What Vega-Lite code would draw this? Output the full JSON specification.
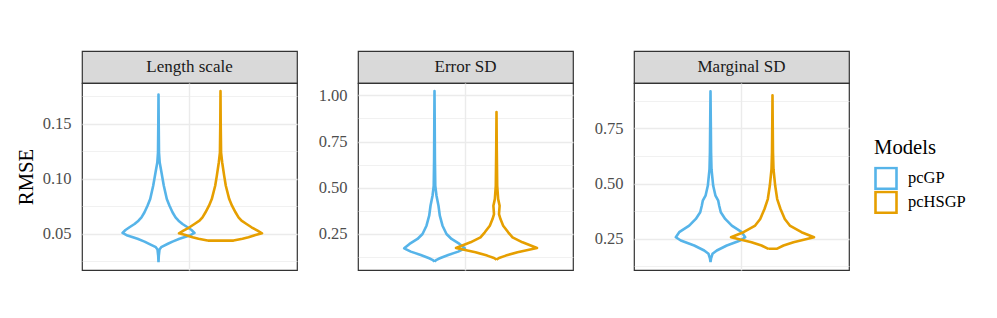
{
  "$schema": "https://vega.github.io/schema/vega-lite/v6.json",
  "background": "white",
  "padding": {"left": 14, "top": 50, "right": 5, "bottom": 5},
  "datasets": {
    "violins": [
      {"panel":"Length scale","model":"pcGP","rmse":0.0243,"vw":0,"k":0},
      {"panel":"Length scale","model":"pcGP","rmse":0.0300,"vw":-0.007,"k":1},
      {"panel":"Length scale","model":"pcGP","rmse":0.0358,"vw":-0.024,"k":2},
      {"panel":"Length scale","model":"pcGP","rmse":0.0379,"vw":-0.065,"k":3},
      {"panel":"Length scale","model":"pcGP","rmse":0.0410,"vw":-0.227,"k":4},
      {"panel":"Length scale","model":"pcGP","rmse":0.0430,"vw":-0.337,"k":5},
      {"panel":"Length scale","model":"pcGP","rmse":0.0455,"vw":-0.506,"k":6},
      {"panel":"Length scale","model":"pcGP","rmse":0.0485,"vw":-0.747,"k":7},
      {"panel":"Length scale","model":"pcGP","rmse":0.0509,"vw":-0.867,"k":8},
      {"panel":"Length scale","model":"pcGP","rmse":0.0535,"vw":-0.795,"k":9},
      {"panel":"Length scale","model":"pcGP","rmse":0.0560,"vw":-0.699,"k":10},
      {"panel":"Length scale","model":"pcGP","rmse":0.0590,"vw":-0.578,"k":11},
      {"panel":"Length scale","model":"pcGP","rmse":0.0620,"vw":-0.482,"k":12},
      {"panel":"Length scale","model":"pcGP","rmse":0.0650,"vw":-0.410,"k":13},
      {"panel":"Length scale","model":"pcGP","rmse":0.0696,"vw":-0.337,"k":14},
      {"panel":"Length scale","model":"pcGP","rmse":0.0756,"vw":-0.265,"k":15},
      {"panel":"Length scale","model":"pcGP","rmse":0.0816,"vw":-0.200,"k":16},
      {"panel":"Length scale","model":"pcGP","rmse":0.0937,"vw":-0.128,"k":17},
      {"panel":"Length scale","model":"pcGP","rmse":0.1057,"vw":-0.072,"k":18},
      {"panel":"Length scale","model":"pcGP","rmse":0.1148,"vw":-0.029,"k":19},
      {"panel":"Length scale","model":"pcGP","rmse":0.1238,"vw":-0.012,"k":20},
      {"panel":"Length scale","model":"pcGP","rmse":0.1500,"vw":-0.005,"k":21},
      {"panel":"Length scale","model":"pcGP","rmse":0.1766,"vw":0,"k":22},
      {"panel":"Length scale","model":"pcGP","rmse":0.1500,"vw":0.005,"k":23},
      {"panel":"Length scale","model":"pcGP","rmse":0.1238,"vw":0.012,"k":24},
      {"panel":"Length scale","model":"pcGP","rmse":0.1148,"vw":0.029,"k":25},
      {"panel":"Length scale","model":"pcGP","rmse":0.1057,"vw":0.072,"k":26},
      {"panel":"Length scale","model":"pcGP","rmse":0.0937,"vw":0.128,"k":27},
      {"panel":"Length scale","model":"pcGP","rmse":0.0816,"vw":0.200,"k":28},
      {"panel":"Length scale","model":"pcGP","rmse":0.0756,"vw":0.265,"k":29},
      {"panel":"Length scale","model":"pcGP","rmse":0.0696,"vw":0.337,"k":30},
      {"panel":"Length scale","model":"pcGP","rmse":0.0650,"vw":0.410,"k":31},
      {"panel":"Length scale","model":"pcGP","rmse":0.0620,"vw":0.482,"k":32},
      {"panel":"Length scale","model":"pcGP","rmse":0.0590,"vw":0.578,"k":33},
      {"panel":"Length scale","model":"pcGP","rmse":0.0560,"vw":0.699,"k":34},
      {"panel":"Length scale","model":"pcGP","rmse":0.0535,"vw":0.795,"k":35},
      {"panel":"Length scale","model":"pcGP","rmse":0.0509,"vw":0.867,"k":36},
      {"panel":"Length scale","model":"pcGP","rmse":0.0485,"vw":0.747,"k":37},
      {"panel":"Length scale","model":"pcGP","rmse":0.0455,"vw":0.506,"k":38},
      {"panel":"Length scale","model":"pcGP","rmse":0.0430,"vw":0.337,"k":39},
      {"panel":"Length scale","model":"pcGP","rmse":0.0410,"vw":0.227,"k":40},
      {"panel":"Length scale","model":"pcGP","rmse":0.0379,"vw":0.065,"k":41},
      {"panel":"Length scale","model":"pcGP","rmse":0.0358,"vw":0.024,"k":42},
      {"panel":"Length scale","model":"pcGP","rmse":0.0300,"vw":0.007,"k":43},
      {"panel":"Length scale","model":"pcGP","rmse":0.0243,"vw":0,"k":44},

      {"panel":"Length scale","model":"pcHSGP","rmse":0.0439,"vw":-0.313,"k":0},
      {"panel":"Length scale","model":"pcHSGP","rmse":0.0455,"vw":-0.530,"k":1},
      {"panel":"Length scale","model":"pcHSGP","rmse":0.0470,"vw":-0.675,"k":2},
      {"panel":"Length scale","model":"pcHSGP","rmse":0.0490,"vw":-0.843,"k":3},
      {"panel":"Length scale","model":"pcHSGP","rmse":0.0505,"vw":-1.0,"k":4},
      {"panel":"Length scale","model":"pcHSGP","rmse":0.0530,"vw":-0.892,"k":5},
      {"panel":"Length scale","model":"pcHSGP","rmse":0.0560,"vw":-0.747,"k":6},
      {"panel":"Length scale","model":"pcHSGP","rmse":0.0590,"vw":-0.627,"k":7},
      {"panel":"Length scale","model":"pcHSGP","rmse":0.0620,"vw":-0.506,"k":8},
      {"panel":"Length scale","model":"pcHSGP","rmse":0.0650,"vw":-0.434,"k":9},
      {"panel":"Length scale","model":"pcHSGP","rmse":0.0696,"vw":-0.361,"k":10},
      {"panel":"Length scale","model":"pcHSGP","rmse":0.0756,"vw":-0.277,"k":11},
      {"panel":"Length scale","model":"pcHSGP","rmse":0.0816,"vw":-0.210,"k":12},
      {"panel":"Length scale","model":"pcHSGP","rmse":0.0937,"vw":-0.128,"k":13},
      {"panel":"Length scale","model":"pcHSGP","rmse":0.1027,"vw":-0.089,"k":14},
      {"panel":"Length scale","model":"pcHSGP","rmse":0.1148,"vw":-0.041,"k":15},
      {"panel":"Length scale","model":"pcHSGP","rmse":0.1238,"vw":-0.014,"k":16},
      {"panel":"Length scale","model":"pcHSGP","rmse":0.1500,"vw":-0.005,"k":17},
      {"panel":"Length scale","model":"pcHSGP","rmse":0.1796,"vw":0,"k":18},
      {"panel":"Length scale","model":"pcHSGP","rmse":0.1500,"vw":0.005,"k":19},
      {"panel":"Length scale","model":"pcHSGP","rmse":0.1238,"vw":0.014,"k":20},
      {"panel":"Length scale","model":"pcHSGP","rmse":0.1148,"vw":0.041,"k":21},
      {"panel":"Length scale","model":"pcHSGP","rmse":0.1027,"vw":0.089,"k":22},
      {"panel":"Length scale","model":"pcHSGP","rmse":0.0937,"vw":0.128,"k":23},
      {"panel":"Length scale","model":"pcHSGP","rmse":0.0816,"vw":0.210,"k":24},
      {"panel":"Length scale","model":"pcHSGP","rmse":0.0756,"vw":0.277,"k":25},
      {"panel":"Length scale","model":"pcHSGP","rmse":0.0696,"vw":0.361,"k":26},
      {"panel":"Length scale","model":"pcHSGP","rmse":0.0650,"vw":0.434,"k":27},
      {"panel":"Length scale","model":"pcHSGP","rmse":0.0620,"vw":0.506,"k":28},
      {"panel":"Length scale","model":"pcHSGP","rmse":0.0590,"vw":0.627,"k":29},
      {"panel":"Length scale","model":"pcHSGP","rmse":0.0560,"vw":0.747,"k":30},
      {"panel":"Length scale","model":"pcHSGP","rmse":0.0530,"vw":0.892,"k":31},
      {"panel":"Length scale","model":"pcHSGP","rmse":0.0505,"vw":1.0,"k":32},
      {"panel":"Length scale","model":"pcHSGP","rmse":0.0490,"vw":0.843,"k":33},
      {"panel":"Length scale","model":"pcHSGP","rmse":0.0470,"vw":0.675,"k":34},
      {"panel":"Length scale","model":"pcHSGP","rmse":0.0455,"vw":0.530,"k":35},
      {"panel":"Length scale","model":"pcHSGP","rmse":0.0439,"vw":0.313,"k":36},
      {"panel":"Length scale","model":"pcHSGP","rmse":0.0439,"vw":-0.313,"k":37},

      {"panel":"Error SD","model":"pcGP","rmse":0.1005,"vw":0,"k":0},
      {"panel":"Error SD","model":"pcGP","rmse":0.1100,"vw":-0.05,"k":1},
      {"panel":"Error SD","model":"pcGP","rmse":0.1185,"vw":-0.128,"k":2},
      {"panel":"Error SD","model":"pcGP","rmse":0.1365,"vw":-0.330,"k":3},
      {"panel":"Error SD","model":"pcGP","rmse":0.1545,"vw":-0.571,"k":4},
      {"panel":"Error SD","model":"pcGP","rmse":0.1725,"vw":-0.730,"k":5},
      {"panel":"Error SD","model":"pcGP","rmse":0.1959,"vw":-0.602,"k":6},
      {"panel":"Error SD","model":"pcGP","rmse":0.2229,"vw":-0.410,"k":7},
      {"panel":"Error SD","model":"pcGP","rmse":0.2498,"vw":-0.289,"k":8},
      {"panel":"Error SD","model":"pcGP","rmse":0.2948,"vw":-0.193,"k":9},
      {"panel":"Error SD","model":"pcGP","rmse":0.3488,"vw":-0.128,"k":10},
      {"panel":"Error SD","model":"pcGP","rmse":0.4027,"vw":-0.096,"k":11},
      {"panel":"Error SD","model":"pcGP","rmse":0.4567,"vw":-0.048,"k":12},
      {"panel":"Error SD","model":"pcGP","rmse":0.5107,"vw":-0.019,"k":13},
      {"panel":"Error SD","model":"pcGP","rmse":0.6500,"vw":-0.010,"k":14},
      {"panel":"Error SD","model":"pcGP","rmse":0.8500,"vw":-0.005,"k":15},
      {"panel":"Error SD","model":"pcGP","rmse":1.0234,"vw":0,"k":16},
      {"panel":"Error SD","model":"pcGP","rmse":0.8500,"vw":0.005,"k":17},
      {"panel":"Error SD","model":"pcGP","rmse":0.6500,"vw":0.010,"k":18},
      {"panel":"Error SD","model":"pcGP","rmse":0.5107,"vw":0.019,"k":19},
      {"panel":"Error SD","model":"pcGP","rmse":0.4567,"vw":0.048,"k":20},
      {"panel":"Error SD","model":"pcGP","rmse":0.4027,"vw":0.096,"k":21},
      {"panel":"Error SD","model":"pcGP","rmse":0.3488,"vw":0.128,"k":22},
      {"panel":"Error SD","model":"pcGP","rmse":0.2948,"vw":0.193,"k":23},
      {"panel":"Error SD","model":"pcGP","rmse":0.2498,"vw":0.289,"k":24},
      {"panel":"Error SD","model":"pcGP","rmse":0.2229,"vw":0.410,"k":25},
      {"panel":"Error SD","model":"pcGP","rmse":0.1959,"vw":0.602,"k":26},
      {"panel":"Error SD","model":"pcGP","rmse":0.1725,"vw":0.730,"k":27},
      {"panel":"Error SD","model":"pcGP","rmse":0.1545,"vw":0.571,"k":28},
      {"panel":"Error SD","model":"pcGP","rmse":0.1365,"vw":0.330,"k":29},
      {"panel":"Error SD","model":"pcGP","rmse":0.1185,"vw":0.128,"k":30},
      {"panel":"Error SD","model":"pcGP","rmse":0.1100,"vw":0.05,"k":31},
      {"panel":"Error SD","model":"pcGP","rmse":0.1005,"vw":0,"k":32},

      {"panel":"Error SD","model":"pcHSGP","rmse":0.1113,"vw":0,"k":0},
      {"panel":"Error SD","model":"pcHSGP","rmse":0.1200,"vw":-0.06,"k":1},
      {"panel":"Error SD","model":"pcHSGP","rmse":0.1329,"vw":-0.224,"k":2},
      {"panel":"Error SD","model":"pcHSGP","rmse":0.1510,"vw":-0.506,"k":3},
      {"panel":"Error SD","model":"pcHSGP","rmse":0.1744,"vw":-0.976,"k":4},
      {"panel":"Error SD","model":"pcHSGP","rmse":0.2049,"vw":-0.627,"k":5},
      {"panel":"Error SD","model":"pcHSGP","rmse":0.2318,"vw":-0.386,"k":6},
      {"panel":"Error SD","model":"pcHSGP","rmse":0.2588,"vw":-0.282,"k":7},
      {"panel":"Error SD","model":"pcHSGP","rmse":0.2948,"vw":-0.161,"k":8},
      {"panel":"Error SD","model":"pcHSGP","rmse":0.3308,"vw":-0.096,"k":9},
      {"panel":"Error SD","model":"pcHSGP","rmse":0.3578,"vw":-0.060,"k":10},
      {"panel":"Error SD","model":"pcHSGP","rmse":0.4027,"vw":-0.075,"k":11},
      {"panel":"Error SD","model":"pcHSGP","rmse":0.4387,"vw":-0.040,"k":12},
      {"panel":"Error SD","model":"pcHSGP","rmse":0.5107,"vw":-0.017,"k":13},
      {"panel":"Error SD","model":"pcHSGP","rmse":0.7000,"vw":-0.007,"k":14},
      {"panel":"Error SD","model":"pcHSGP","rmse":0.9100,"vw":0,"k":15},
      {"panel":"Error SD","model":"pcHSGP","rmse":0.7000,"vw":0.007,"k":16},
      {"panel":"Error SD","model":"pcHSGP","rmse":0.5107,"vw":0.017,"k":17},
      {"panel":"Error SD","model":"pcHSGP","rmse":0.4387,"vw":0.040,"k":18},
      {"panel":"Error SD","model":"pcHSGP","rmse":0.4027,"vw":0.075,"k":19},
      {"panel":"Error SD","model":"pcHSGP","rmse":0.3578,"vw":0.060,"k":20},
      {"panel":"Error SD","model":"pcHSGP","rmse":0.3308,"vw":0.096,"k":21},
      {"panel":"Error SD","model":"pcHSGP","rmse":0.2948,"vw":0.161,"k":22},
      {"panel":"Error SD","model":"pcHSGP","rmse":0.2588,"vw":0.282,"k":23},
      {"panel":"Error SD","model":"pcHSGP","rmse":0.2318,"vw":0.386,"k":24},
      {"panel":"Error SD","model":"pcHSGP","rmse":0.2049,"vw":0.627,"k":25},
      {"panel":"Error SD","model":"pcHSGP","rmse":0.1744,"vw":0.976,"k":26},
      {"panel":"Error SD","model":"pcHSGP","rmse":0.1510,"vw":0.506,"k":27},
      {"panel":"Error SD","model":"pcHSGP","rmse":0.1329,"vw":0.224,"k":28},
      {"panel":"Error SD","model":"pcHSGP","rmse":0.1200,"vw":0.06,"k":29},
      {"panel":"Error SD","model":"pcHSGP","rmse":0.1113,"vw":0,"k":30},

      {"panel":"Marginal SD","model":"pcGP","rmse":0.145,"vw":0,"k":0},
      {"panel":"Marginal SD","model":"pcGP","rmse":0.160,"vw":-0.012,"k":1},
      {"panel":"Marginal SD","model":"pcGP","rmse":0.1823,"vw":-0.048,"k":2},
      {"panel":"Marginal SD","model":"pcGP","rmse":0.1973,"vw":-0.152,"k":3},
      {"panel":"Marginal SD","model":"pcGP","rmse":0.2198,"vw":-0.393,"k":4},
      {"panel":"Marginal SD","model":"pcGP","rmse":0.2423,"vw":-0.716,"k":5},
      {"panel":"Marginal SD","model":"pcGP","rmse":0.2573,"vw":-0.836,"k":6},
      {"panel":"Marginal SD","model":"pcGP","rmse":0.280,"vw":-0.754,"k":7},
      {"panel":"Marginal SD","model":"pcGP","rmse":0.310,"vw":-0.513,"k":8},
      {"panel":"Marginal SD","model":"pcGP","rmse":0.340,"vw":-0.354,"k":9},
      {"panel":"Marginal SD","model":"pcGP","rmse":0.370,"vw":-0.248,"k":10},
      {"panel":"Marginal SD","model":"pcGP","rmse":0.400,"vw":-0.210,"k":11},
      {"panel":"Marginal SD","model":"pcGP","rmse":0.4225,"vw":-0.186,"k":12},
      {"panel":"Marginal SD","model":"pcGP","rmse":0.445,"vw":-0.120,"k":13},
      {"panel":"Marginal SD","model":"pcGP","rmse":0.490,"vw":-0.065,"k":14},
      {"panel":"Marginal SD","model":"pcGP","rmse":0.565,"vw":-0.024,"k":15},
      {"panel":"Marginal SD","model":"pcGP","rmse":0.640,"vw":-0.014,"k":16},
      {"panel":"Marginal SD","model":"pcGP","rmse":0.780,"vw":-0.007,"k":17},
      {"panel":"Marginal SD","model":"pcGP","rmse":0.918,"vw":0,"k":18},
      {"panel":"Marginal SD","model":"pcGP","rmse":0.780,"vw":0.007,"k":19},
      {"panel":"Marginal SD","model":"pcGP","rmse":0.640,"vw":0.014,"k":20},
      {"panel":"Marginal SD","model":"pcGP","rmse":0.565,"vw":0.024,"k":21},
      {"panel":"Marginal SD","model":"pcGP","rmse":0.490,"vw":0.065,"k":22},
      {"panel":"Marginal SD","model":"pcGP","rmse":0.445,"vw":0.120,"k":23},
      {"panel":"Marginal SD","model":"pcGP","rmse":0.4225,"vw":0.186,"k":24},
      {"panel":"Marginal SD","model":"pcGP","rmse":0.400,"vw":0.210,"k":25},
      {"panel":"Marginal SD","model":"pcGP","rmse":0.370,"vw":0.248,"k":26},
      {"panel":"Marginal SD","model":"pcGP","rmse":0.340,"vw":0.354,"k":27},
      {"panel":"Marginal SD","model":"pcGP","rmse":0.310,"vw":0.513,"k":28},
      {"panel":"Marginal SD","model":"pcGP","rmse":0.280,"vw":0.754,"k":29},
      {"panel":"Marginal SD","model":"pcGP","rmse":0.2573,"vw":0.836,"k":30},
      {"panel":"Marginal SD","model":"pcGP","rmse":0.2423,"vw":0.716,"k":31},
      {"panel":"Marginal SD","model":"pcGP","rmse":0.2198,"vw":0.393,"k":32},
      {"panel":"Marginal SD","model":"pcGP","rmse":0.1973,"vw":0.152,"k":33},
      {"panel":"Marginal SD","model":"pcGP","rmse":0.1823,"vw":0.048,"k":34},
      {"panel":"Marginal SD","model":"pcGP","rmse":0.160,"vw":0.012,"k":35},
      {"panel":"Marginal SD","model":"pcGP","rmse":0.145,"vw":0,"k":36},

      {"panel":"Marginal SD","model":"pcHSGP","rmse":0.2048,"vw":-0.100,"k":0},
      {"panel":"Marginal SD","model":"pcHSGP","rmse":0.2198,"vw":-0.265,"k":1},
      {"panel":"Marginal SD","model":"pcHSGP","rmse":0.2348,"vw":-0.506,"k":2},
      {"panel":"Marginal SD","model":"pcHSGP","rmse":0.2573,"vw":-1.0,"k":3},
      {"panel":"Marginal SD","model":"pcHSGP","rmse":0.280,"vw":-0.699,"k":4},
      {"panel":"Marginal SD","model":"pcHSGP","rmse":0.310,"vw":-0.417,"k":5},
      {"panel":"Marginal SD","model":"pcHSGP","rmse":0.340,"vw":-0.296,"k":6},
      {"panel":"Marginal SD","model":"pcHSGP","rmse":0.385,"vw":-0.193,"k":7},
      {"panel":"Marginal SD","model":"pcHSGP","rmse":0.430,"vw":-0.113,"k":8},
      {"panel":"Marginal SD","model":"pcHSGP","rmse":0.490,"vw":-0.065,"k":9},
      {"panel":"Marginal SD","model":"pcHSGP","rmse":0.565,"vw":-0.024,"k":10},
      {"panel":"Marginal SD","model":"pcHSGP","rmse":0.640,"vw":-0.012,"k":11},
      {"panel":"Marginal SD","model":"pcHSGP","rmse":0.780,"vw":-0.005,"k":12},
      {"panel":"Marginal SD","model":"pcHSGP","rmse":0.899,"vw":0,"k":13},
      {"panel":"Marginal SD","model":"pcHSGP","rmse":0.780,"vw":0.005,"k":14},
      {"panel":"Marginal SD","model":"pcHSGP","rmse":0.640,"vw":0.012,"k":15},
      {"panel":"Marginal SD","model":"pcHSGP","rmse":0.565,"vw":0.024,"k":16},
      {"panel":"Marginal SD","model":"pcHSGP","rmse":0.490,"vw":0.065,"k":17},
      {"panel":"Marginal SD","model":"pcHSGP","rmse":0.430,"vw":0.113,"k":18},
      {"panel":"Marginal SD","model":"pcHSGP","rmse":0.385,"vw":0.193,"k":19},
      {"panel":"Marginal SD","model":"pcHSGP","rmse":0.340,"vw":0.296,"k":20},
      {"panel":"Marginal SD","model":"pcHSGP","rmse":0.310,"vw":0.417,"k":21},
      {"panel":"Marginal SD","model":"pcHSGP","rmse":0.280,"vw":0.699,"k":22},
      {"panel":"Marginal SD","model":"pcHSGP","rmse":0.2573,"vw":1.0,"k":23},
      {"panel":"Marginal SD","model":"pcHSGP","rmse":0.2348,"vw":0.506,"k":24},
      {"panel":"Marginal SD","model":"pcHSGP","rmse":0.2198,"vw":0.265,"k":25},
      {"panel":"Marginal SD","model":"pcHSGP","rmse":0.2048,"vw":0.100,"k":26},
      {"panel":"Marginal SD","model":"pcHSGP","rmse":0.2048,"vw":-0.100,"k":27}
    ]
  },
  "hconcat": [
    {
      "bounds": "flush",
      "spacing": 0,
      "vconcat": [
        {
          "width": 215, "height": 32,
          "data": {"values": [{"label": "Length scale"}]},
          "view": {"fill": "#d9d9d9", "stroke": "#333333", "strokeWidth": 1.2},
          "mark": {"type": "text", "fontSize": 17, "color": "#1a1a1a", "baseline": "middle", "align": "center"},
          "encoding": {"text": {"field": "label", "type": "nominal"}}
        },
        {
          "width": 215, "height": 187,
          "data": {"name": "violins"},
          "transform": [{"filter": {"field": "panel", "equal": "Length scale"}}],
          "mark": {"type": "line", "strokeWidth": 2.6, "strokeJoin": "round"},
          "encoding": {
            "x": {"field": "model", "type": "nominal", "scale": {"domain": ["pcGP", "pcHSGP"], "paddingInner": 0, "paddingOuter": 0.734},
                  "axis": {"values": ["pcGP"], "bandPosition": 1, "grid": true, "labels": false, "ticks": false, "domain": false, "title": null, "gridWidth": 1.4}},
            "xOffset": {"field": "vw", "type": "quantitative", "scale": {"domain": [-1, 1], "range": [-10.5, 72.5]}},
            "y": {"field": "rmse", "type": "quantitative", "scale": {"domain": [0.0172, 0.187], "nice": false, "zero": false},
                  "axis": {"values": [0.025, 0.05, 0.075, 0.1, 0.125, 0.15, 0.175], "title": "RMSE",
                           "labelExpr": "abs(datum.value*20 - round(datum.value*20)) < 0.001 ? format(datum.value, '.2f') : ''",
                           "gridWidth": {"condition": {"test": "abs(datum.value*20 - round(datum.value*20)) < 0.001", "value": 1.4}, "value": 0.7}}},
            "color": {"field": "model", "type": "nominal", "scale": {"domain": ["pcGP", "pcHSGP"], "range": ["#56B4E9", "#E69F00"]},
                      "legend": {"title": "Models", "orient": "none", "legendX": 792, "legendY": 87}},
            "order": {"field": "k", "type": "quantitative"}
          }
        }
      ]
    },
    {
      "bounds": "flush",
      "spacing": 0,
      "vconcat": [
        {
          "width": 215, "height": 32,
          "data": {"values": [{"label": "Error SD"}]},
          "view": {"fill": "#d9d9d9", "stroke": "#333333", "strokeWidth": 1.2},
          "mark": {"type": "text", "fontSize": 17, "color": "#1a1a1a", "baseline": "middle", "align": "center"},
          "encoding": {"text": {"field": "label", "type": "nominal"}}
        },
        {
          "width": 215, "height": 187,
          "data": {"name": "violins"},
          "transform": [{"filter": {"field": "panel", "equal": "Error SD"}}],
          "mark": {"type": "line", "strokeWidth": 2.6, "strokeJoin": "round"},
          "encoding": {
            "x": {"field": "model", "type": "nominal", "scale": {"domain": ["pcGP", "pcHSGP"], "paddingInner": 0, "paddingOuter": 0.734},
                  "axis": {"values": ["pcGP"], "bandPosition": 1, "grid": true, "labels": false, "ticks": false, "domain": false, "title": null, "gridWidth": 1.4}},
            "xOffset": {"field": "vw", "type": "quantitative", "scale": {"domain": [-1, 1], "range": [-10.5, 72.5]}},
            "y": {"field": "rmse", "type": "quantitative", "scale": {"domain": [0.055, 1.067], "nice": false, "zero": false},
                  "axis": {"values": [0.125, 0.25, 0.375, 0.5, 0.625, 0.75, 0.875, 1.0], "title": null,
                           "labelExpr": "abs(datum.value*4 - round(datum.value*4)) < 0.001 ? format(datum.value, '.2f') : ''",
                           "gridWidth": {"condition": {"test": "abs(datum.value*4 - round(datum.value*4)) < 0.001", "value": 1.4}, "value": 0.7}}},
            "color": {"field": "model", "type": "nominal", "scale": {"domain": ["pcGP", "pcHSGP"], "range": ["#56B4E9", "#E69F00"]},
                      "legend": {"title": "Models", "orient": "none", "legendX": 792, "legendY": 87}},
            "order": {"field": "k", "type": "quantitative"}
          }
        }
      ]
    },
    {
      "bounds": "flush",
      "spacing": 0,
      "vconcat": [
        {
          "width": 215, "height": 32,
          "data": {"values": [{"label": "Marginal SD"}]},
          "view": {"fill": "#d9d9d9", "stroke": "#333333", "strokeWidth": 1.2},
          "mark": {"type": "text", "fontSize": 17, "color": "#1a1a1a", "baseline": "middle", "align": "center"},
          "encoding": {"text": {"field": "label", "type": "nominal"}}
        },
        {
          "width": 215, "height": 187,
          "data": {"name": "violins"},
          "transform": [{"filter": {"field": "panel", "equal": "Marginal SD"}}],
          "mark": {"type": "line", "strokeWidth": 2.6, "strokeJoin": "round"},
          "encoding": {
            "x": {"field": "model", "type": "nominal", "scale": {"domain": ["pcGP", "pcHSGP"], "paddingInner": 0, "paddingOuter": 0.734},
                  "axis": {"values": ["pcGP"], "bandPosition": 1, "grid": true, "labels": false, "ticks": false, "domain": false, "title": null, "gridWidth": 1.4}},
            "xOffset": {"field": "vw", "type": "quantitative", "scale": {"domain": [-1, 1], "range": [-10.5, 72.5]}},
            "y": {"field": "rmse", "type": "quantitative", "scale": {"domain": [0.109, 0.955], "nice": false, "zero": false},
                  "axis": {"values": [0.125, 0.25, 0.375, 0.5, 0.625, 0.75, 0.875], "title": null,
                           "labelExpr": "abs(datum.value*4 - round(datum.value*4)) < 0.001 ? format(datum.value, '.2f') : ''",
                           "gridWidth": {"condition": {"test": "abs(datum.value*4 - round(datum.value*4)) < 0.001", "value": 1.4}, "value": 0.7}}},
            "color": {"field": "model", "type": "nominal", "scale": {"domain": ["pcGP", "pcHSGP"], "range": ["#56B4E9", "#E69F00"]},
                      "legend": {"title": "Models", "orient": "none", "legendX": 792, "legendY": 87}},
            "order": {"field": "k", "type": "quantitative"}
          }
        }
      ]
    }
  ],
  "spacing": 19,
  "config": {
    "font": "Liberation Serif",
    "view": {"stroke": "#333333", "strokeWidth": 1.2},
    "axis": {
      "gridColor": "#ebebeb",
      "labelColor": "#4d4d4d",
      "labelFontSize": 16.5,
      "labelFont": "Liberation Serif",
      "ticks": false,
      "domain": false,
      "labelPadding": 11,
      "titleFontSize": 20.7,
      "titleFont": "Liberation Serif",
      "titleFontWeight": "normal",
      "titleColor": "black",
      "titlePadding": 6
    },
    "legend": {
      "symbolType": "square",
      "symbolSize": 441,
      "symbolStrokeWidth": 2.6,
      "symbolFillColor": "transparent",
      "labelFontSize": 16.5,
      "labelFont": "Liberation Serif",
      "labelColor": "black",
      "labelOffset": 10,
      "titleFontSize": 20.7,
      "titleFont": "Liberation Serif",
      "titleFontWeight": "normal",
      "titleColor": "black",
      "titlePadding": 8,
      "rowPadding": 0,
      "clipHeight": 23.3
    }
  }
}
